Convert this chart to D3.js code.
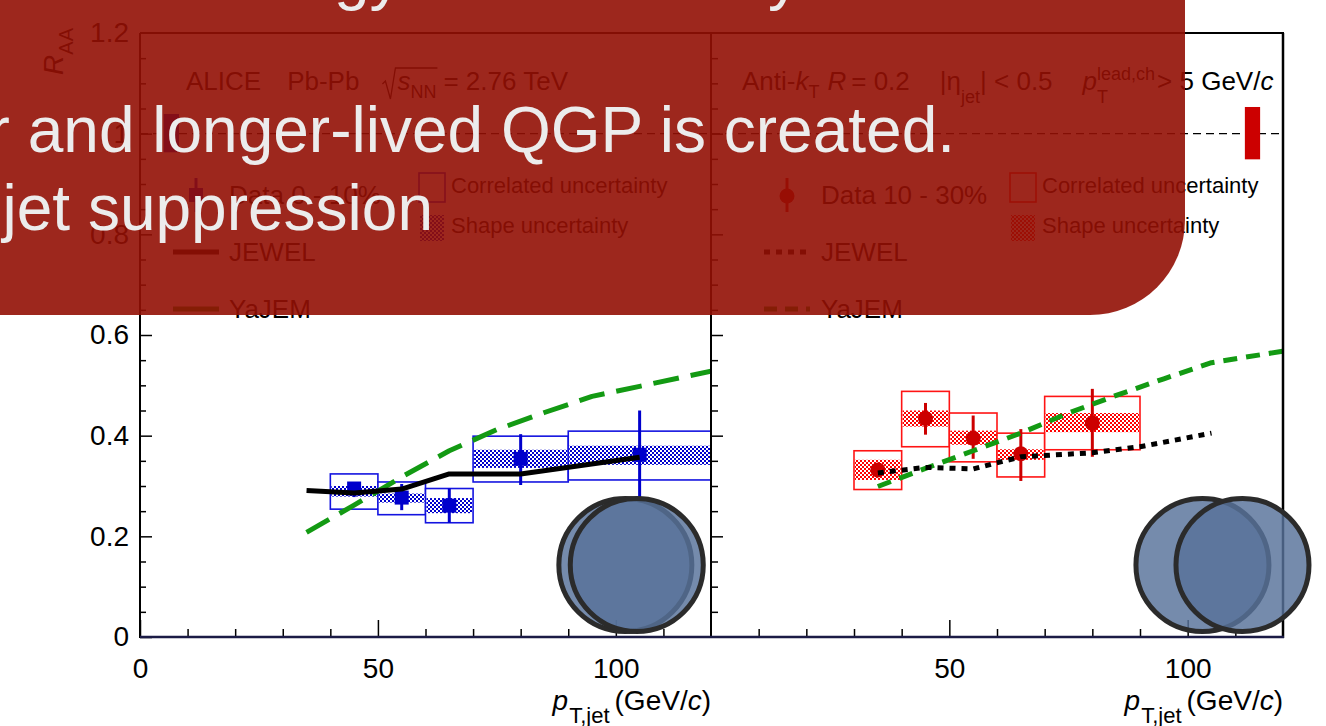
<!DOCTYPE html>
<html>
<head>
<meta charset="utf-8">
<script src="https://cdn.jsdelivr.net/npm/d3@7"></script>
<style>
  html, body { margin: 0; padding: 0; background: #fff; overflow: hidden; }
  svg { display: block; font-family: "Liberation Sans", Arial, Helvetica, sans-serif; }
</style>
</head>
<body>
<svg id="chart" width="1326" height="726"></svg>
<script>
// ---------------- data: jet R_AA, Pb-Pb 2.76 TeV, anti-kT R=0.2 ----------------
// 0-10% centrality
const binLo_0010   = [40, 50, 60, 70, 90];
const binHi_0010   = [50, 60, 70, 90, 120];
const pt_0010      = [45, 55, 65, 80, 105];
const raa_0010     = [0.295, 0.277, 0.261, 0.354, 0.362];
const statLo_0010  = [0.278, 0.252, 0.227, 0.302, 0.274];
const statHi_0010  = [0.307, 0.304, 0.295, 0.403, 0.450];
const corrLo_0010  = [0.254, 0.243, 0.227, 0.308, 0.312];
const corrHi_0010  = [0.324, 0.308, 0.295, 0.399, 0.409];
const shapeLo_0010 = [0.279, 0.267, 0.246, 0.336, 0.342];
const shapeHi_0010 = [0.300, 0.285, 0.276, 0.372, 0.380];
const norm_0010    = [0.963, 1.039];

// 10-30% centrality
const binLo_1030   = [30, 40, 50, 60, 70];
const binHi_1030   = [40, 50, 60, 70, 90];
const pt_1030      = [35, 45, 55, 65, 80];
const raa_1030     = [0.332, 0.434, 0.395, 0.364, 0.425];
const statLo_1030  = [0.321, 0.402, 0.354, 0.310, 0.358];
const statHi_1030  = [0.343, 0.465, 0.440, 0.413, 0.493];
const corrLo_1030  = [0.293, 0.378, 0.348, 0.318, 0.372];
const corrHi_1030  = [0.370, 0.488, 0.445, 0.405, 0.478];
const shapeLo_1030 = [0.312, 0.418, 0.382, 0.352, 0.407];
const shapeHi_1030 = [0.352, 0.450, 0.410, 0.373, 0.445];
const norm_1030    = [0.949, 1.053];

// model curves
const jewelPt_0010 = [35, 45, 55, 65, 80, 105];
const jewel_0010   = [0.291, 0.286, 0.294, 0.324, 0.324, 0.357];
const yajemPt_0010 = [35, 45, 55, 65, 75, 85, 95, 105, 120];
const yajem_0010   = [0.208, 0.262, 0.318, 0.370, 0.412, 0.446, 0.478, 0.498, 0.528];
const jewelPt_1030 = [35, 45, 55, 65, 80, 90, 105];
const jewel_1030   = [0.326, 0.337, 0.334, 0.358, 0.366, 0.378, 0.405];
const yajemPt_1030 = [35, 45, 55, 65, 75, 85, 95, 105, 120];
const yajem_1030   = [0.299, 0.335, 0.370, 0.405, 0.445, 0.480, 0.513, 0.545, 0.568];

// axis ticks
const xMajorTicksL = [0, 50, 100];
const xMajorTicksR = [50, 100];
const xMinorTicks  = [10, 20, 30, 40, 60, 70, 80, 90, 110];
const yMajorTicks  = [0, 0.2, 0.4, 0.6, 0.8, 1.0, 1.2];
const yMinorTicks  = [0.05, 0.1, 0.15, 0.25, 0.3, 0.35, 0.45, 0.5, 0.55, 0.65, 0.7, 0.75, 0.85, 0.9, 0.95, 1.05, 1.1, 1.15];

// ---------------- setup ----------------
const svg = d3.select("#chart");
const defs = svg.append("defs");

const BLUE = "#0000cc", BLUE_BOX = "#1414e0";
const RED = "#cc0000", RED_BOX = "#ff1414";
const GREEN = "#139a13";

const y  = d3.scaleLinear().domain([0, 1.2]).range([637, 33]);
const xL = d3.scaleLinear().domain([0, 120]).range([140, 711]);
const xR = d3.scaleLinear().domain([0, 120]).range([711, 1283]);

function checker(id, color) {
  const p = defs.append("pattern").attr("id", id)
    .attr("width", 4).attr("height", 4).attr("patternUnits", "userSpaceOnUse");
  p.append("rect").attr("width", 4).attr("height", 4).attr("fill", "#fff");
  p.append("rect").attr("width", 2).attr("height", 2).attr("fill", color);
  p.append("rect").attr("x", 2).attr("y", 2).attr("width", 2).attr("height", 2).attr("fill", color);
}
checker("hatchBlue", BLUE);
checker("hatchRed", "#ff0000");

defs.append("clipPath").attr("id", "clipL").append("rect")
  .attr("x", xL(0)).attr("y", y(1.2)).attr("width", xL(120) - xL(0)).attr("height", y(0) - y(1.2));
defs.append("clipPath").attr("id", "clipR").append("rect")
  .attr("x", xR(0)).attr("y", y(1.2)).attr("width", xR(120) - xR(0)).attr("height", y(0) - y(1.2));

// piecewise rich text (italics, sub/superscripts); returns piece extents
function rich(parent, x, yb, parts, opts = {}) {
  const g = parent.append("g");
  let cx = 0, hold = null;
  const ext = [];
  parts.forEach(p => {
    cx += p.gap || 0;
    const t = g.append("text")
      .attr("x", cx).attr("y", p.dy || 0)
      .attr("font-size", p.size || opts.size || 26)
      .attr("font-style", p.it ? "italic" : null)
      .attr("fill", opts.fill || "#000")
      .text(p.t);
    const w = t.node().getComputedTextLength();
    ext.push([cx, cx + w]);
    if (p.hold) { hold = { x: cx, w }; }
    else if (hold) { cx = hold.x + Math.max(hold.w, w); hold = null; }
    else cx += w;
  });
  const x0 = opts.anchor === "end" ? x - cx : x;
  g.attr("transform", `translate(${x0},${yb})`);
  return ext.map(e => [e[0] + x0, e[1] + x0]);
}

const plot = svg.append("g");

// reference line at R_AA = 1
plot.append("line")
  .attr("x1", xL(0)).attr("x2", xR(120)).attr("y1", y(1)).attr("y2", y(1))
  .attr("stroke", "#000").attr("stroke-width", 1.4).attr("stroke-dasharray", "8,5");

// normalisation uncertainty bars
plot.append("rect").attr("x", xL(5)).attr("width", xL(8.2) - xL(5))
  .attr("y", y(norm_0010[1])).attr("height", y(norm_0010[0]) - y(norm_0010[1])).attr("fill", BLUE);
plot.append("rect").attr("x", xR(112)).attr("width", xR(115.2) - xR(112))
  .attr("y", y(norm_1030[1])).attr("height", y(norm_1030[0]) - y(norm_1030[1])).attr("fill", RED);

// ---------------- data panels ----------------
function drawPanel(x, rows, col, boxCol, hatch, marker) {
  const g = plot.append("g");
  g.selectAll(".corr").data(rows).join("rect")
    .attr("x", d => x(d.lo)).attr("width", d => x(d.hi) - x(d.lo))
    .attr("y", d => y(d.cHi)).attr("height", d => y(d.cLo) - y(d.cHi))
    .attr("fill", "#fff").attr("stroke", boxCol).attr("stroke-width", 1.6);
  g.selectAll(".shape").data(rows).join("rect")
    .attr("x", d => x(d.lo) + 1).attr("width", d => x(d.hi) - x(d.lo) - 2)
    .attr("y", d => y(d.sHi)).attr("height", d => y(d.sLo) - y(d.sHi))
    .attr("fill", `url(#${hatch})`);
  g.selectAll(".stat").data(rows).join("line")
    .attr("x1", d => x(d.c)).attr("x2", d => x(d.c))
    .attr("y1", d => y(d.eLo)).attr("y2", d => y(d.eHi))
    .attr("stroke", col).attr("stroke-width", 3);
  if (marker === "square") {
    g.selectAll(".mk").data(rows).join("rect")
      .attr("x", d => x(d.c) - 7).attr("y", d => y(d.v) - 7)
      .attr("width", 14).attr("height", 14).attr("fill", col);
  } else {
    g.selectAll(".mk").data(rows).join("circle")
      .attr("cx", d => x(d.c)).attr("cy", d => y(d.v)).attr("r", 7.5).attr("fill", col);
  }
  return g;
}

function rowsOf(lo, hi, c, v, eLo, eHi, cLo, cHi, sLo, sHi) {
  return c.map((_, i) => ({ lo: lo[i], hi: hi[i], c: c[i], v: v[i], eLo: eLo[i], eHi: eHi[i],
    cLo: cLo[i], cHi: cHi[i], sLo: sLo[i], sHi: sHi[i] }));
}

drawPanel(xL,
  rowsOf(binLo_0010, binHi_0010, pt_0010, raa_0010, statLo_0010, statHi_0010, corrLo_0010, corrHi_0010, shapeLo_0010, shapeHi_0010),
  BLUE, BLUE_BOX, "hatchBlue", "square");
drawPanel(xR,
  rowsOf(binLo_1030, binHi_1030, pt_1030, raa_1030, statLo_1030, statHi_1030, corrLo_1030, corrHi_1030, shapeLo_1030, shapeHi_1030),
  RED, RED_BOX, "hatchRed", "circle");

// model curves
function curve(x, clipId, xs, ys, color, dash) {
  const line = d3.line().x(d => x(d[0])).y(d => y(d[1]));
  plot.append("path").attr("clip-path", `url(#${clipId})`)
    .attr("d", line(xs.map((v, i) => [v, ys[i]])))
    .attr("fill", "none").attr("stroke", color).attr("stroke-width", 5)
    .attr("stroke-dasharray", dash).attr("stroke-linejoin", "round");
}
curve(xL, "clipL", yajemPt_0010, yajem_0010, GREEN, "26,12");
curve(xL, "clipL", jewelPt_0010, jewel_0010, "#000", null);
curve(xR, "clipR", yajemPt_1030, yajem_1030, GREEN, "14,9");
curve(xR, "clipR", jewelPt_1030, jewel_1030, "#000", "6,6");

// ---------------- axes ----------------
const axes = svg.append("g");
function styleAxis(g, size) {
  g.select(".domain").remove();
  g.selectAll(".tick line").attr("stroke", "#000").attr("stroke-width", 1.5);
  g.selectAll(".tick text").attr("font-size", size).attr("fill", "#000")
    .attr("font-family", "Liberation Sans, Arial, sans-serif");
}
const fmtY = d => String(+d.toFixed(1));

axes.append("g").attr("transform", `translate(0,${y(0)})`)
  .call(d3.axisBottom(xL).tickValues(xMajorTicksL).tickSize(-17).tickPadding(21).tickFormat(d3.format("d")))
  .call(g => styleAxis(g, 28));
axes.append("g").attr("transform", `translate(0,${y(0)})`)
  .call(d3.axisBottom(xL).tickValues(xMinorTicks).tickSize(-8).tickFormat(""))
  .call(g => styleAxis(g, 28));
axes.append("g").attr("transform", `translate(0,${y(0)})`)
  .call(d3.axisBottom(xR).tickValues(xMajorTicksR).tickSize(-17).tickPadding(21).tickFormat(d3.format("d")))
  .call(g => styleAxis(g, 28));
axes.append("g").attr("transform", `translate(0,${y(0)})`)
  .call(d3.axisBottom(xR).tickValues(xMinorTicks).tickSize(-8).tickFormat(""))
  .call(g => styleAxis(g, 28));

axes.append("g").attr("transform", `translate(${xL(0)},0)`)
  .call(d3.axisLeft(y).tickValues(yMajorTicks.filter(d => d < 1.2)).tickSize(-12).tickPadding(11).tickFormat(fmtY))
  .call(g => styleAxis(g, 28));
axes.append("g").attr("transform", `translate(${xL(0)},0)`)
  .call(d3.axisLeft(y).tickValues([1.2]).tickSize(0).tickPadding(11).tickFormat(fmtY))
  .call(g => styleAxis(g, 28));
axes.append("g").attr("transform", `translate(${xL(0)},0)`)
  .call(d3.axisLeft(y).tickValues(yMinorTicks).tickSize(-6).tickFormat(""))
  .call(g => styleAxis(g, 28));
axes.append("g").attr("transform", `translate(${xR(0)},0)`)
  .call(d3.axisLeft(y).tickValues(yMajorTicks.filter(d => d > 0 && d < 1.2)).tickSize(-12).tickFormat(""))
  .call(g => styleAxis(g, 28));
axes.append("g").attr("transform", `translate(${xR(0)},0)`)
  .call(d3.axisLeft(y).tickValues(yMinorTicks).tickSize(-7).tickFormat(""))
  .call(g => styleAxis(g, 28));

// frame
const frame = svg.append("g").attr("stroke", "#000").attr("stroke-width", 2);
frame.append("line").attr("x1", xL(0)).attr("x2", xL(0)).attr("y1", y(1.2)).attr("y2", y(0) + 1);
frame.append("line").attr("x1", xR(0)).attr("x2", xR(0)).attr("y1", y(1.2)).attr("y2", y(0) + 1);
frame.append("line").attr("x1", xR(120)).attr("x2", xR(120)).attr("y1", y(1.2)).attr("y2", y(0) + 1).attr("stroke-width", 2.5);
frame.append("line").attr("x1", xL(0)).attr("x2", xR(120) + 1).attr("y1", y(1.2)).attr("y2", y(1.2));
frame.append("line").attr("x1", xL(0)).attr("x2", xR(120) + 1).attr("y1", y(0)).attr("y2", y(0))
  .attr("stroke", "#1b1b45").attr("stroke-width", 2.5);

// axis titles
const titles = svg.append("g");
[xL(120), xR(120)].forEach(xe => {
  rich(titles, xe, 710, [
    { t: "p", it: true, size: 28 },
    { t: "T,jet", size: 22, dy: 13, gap: 1 },
    { t: "(GeV/", size: 28, gap: 5 },
    { t: "c", it: true, size: 28 },
    { t: ")", size: 28 }
  ], { anchor: "end" });
});
const yTitle = titles.append("g").attr("transform", "translate(63,28) rotate(-90)");
rich(yTitle, 0, 0, [
  { t: "R", it: true, size: 28 },
  { t: "AA", size: 20, dy: 10 }
], { anchor: "end" });

// ---------------- panel headers and legends ----------------
const leg = svg.append("g");
const hdr = rich(leg, 186, 90, [
  { t: "ALICE" },
  { t: "Pb-Pb", gap: 26 },
  { t: "s", it: true, gap: 38 },
  { t: "NN", size: 18, dy: 8 },
  { t: "= 2.76 TeV", gap: 7 }
]);
const sx = hdr[2][0], nnEnd = hdr[3][1];
leg.append("path")
  .attr("d", `M${sx - 15},84 L${sx - 12},81 L${sx - 7},99 L${sx - 2},68 L${nnEnd + 1},68`)
  .attr("fill", "none").attr("stroke", "#000").attr("stroke-width", 1.3);

rich(leg, 742, 90, [
  { t: "Anti-" },
  { t: "k", it: true },
  { t: "T", size: 18, dy: 8 },
  { t: "R", it: true, gap: 8 },
  { t: "= 0.2", gap: 5 },
  { t: "|η", gap: 30 },
  { t: "jet", size: 18, dy: 13 },
  { t: "| < 0.5" },
  { t: "p", it: true, gap: 30 },
  { t: "lead,ch", size: 18, dy: -10, hold: true },
  { t: "T", size: 18, dy: 13 },
  { t: "> 5 GeV/", gap: 2 },
  { t: "c", it: true }
]);

function legendBlock(x0, xt, xb, col, boxCol, hatch, marker, label, jewelDash, yajemDash) {
  // data marker with error bar
  leg.append("line").attr("x1", x0 + 23).attr("x2", x0 + 23).attr("y1", 178).attr("y2", 212)
    .attr("stroke", col).attr("stroke-width", 3);
  if (marker === "square")
    leg.append("rect").attr("x", x0 + 16).attr("y", 188).attr("width", 14).attr("height", 14).attr("fill", col);
  else
    leg.append("circle").attr("cx", x0 + 23).attr("cy", 196).attr("r", 7.5).attr("fill", col);
  leg.append("text").attr("x", xt).attr("y", 204).attr("font-size", 26).text(label);
  // uncertainty boxes
  leg.append("rect").attr("x", xb).attr("y", 173).attr("width", 26).attr("height", 29)
    .attr("fill", "none").attr("stroke", boxCol).attr("stroke-width", 1.6);
  leg.append("text").attr("x", xb + 32).attr("y", 193).attr("font-size", 22).text("Correlated uncertainty");
  leg.append("rect").attr("x", xb + 1).attr("y", 215).attr("width", 24).attr("height", 26)
    .attr("fill", `url(#${hatch})`);
  leg.append("text").attr("x", xb + 32).attr("y", 233).attr("font-size", 22).text("Shape uncertainty");
  // model lines
  leg.append("line").attr("x1", x0).attr("x2", x0 + 46).attr("y1", 252).attr("y2", 252)
    .attr("stroke", "#000").attr("stroke-width", 5).attr("stroke-dasharray", jewelDash);
  leg.append("text").attr("x", xt).attr("y", 261).attr("font-size", 26).text("JEWEL");
  leg.append("line").attr("x1", x0).attr("x2", x0 + 46).attr("y1", 309).attr("y2", 309)
    .attr("stroke", GREEN).attr("stroke-width", 5).attr("stroke-dasharray", yajemDash);
  leg.append("text").attr("x", xt).attr("y", 318).attr("font-size", 26).text("YaJEM");
}
legendBlock(173, 229, 419, BLUE, BLUE_BOX, "hatchBlue", "square", "Data 0 - 10%", null, null);
legendBlock(764, 821, 1010, RED, RED_BOX, "hatchRed", "circle", "Data 10 - 30%", "6,6", "13,8");

// ---------------- overlay discs ----------------
const discs = svg.append("g");
const discY = 0.143, discR = 66.5;
[[xL, 102.0], [xL, 104.4], [xR, 103.1], [xR, 111.5]].forEach(([x, v]) => {
  discs.append("circle").attr("cx", x(v)).attr("cy", y(discY)).attr("r", discR)
    .attr("fill", "rgb(88,114,154)").attr("fill-opacity", 0.825)
    .attr("stroke", "#2b2b2b").attr("stroke-width", 5);
});

// ---------------- caption banner ----------------
const banner = svg.append("g");
banner.append("rect").attr("x", -200).attr("y", -200).attr("width", 1385).attr("height", 515)
  .attr("rx", 95).attr("ry", 95)
  .attr("fill", "rgb(146,16,4)").attr("fill-opacity", 0.9);

const BF = 64, BCOL = "#ececec";
// first caption line: the "gy" of "energy" starts at x = 334
const probe = banner.append("text").attr("font-size", BF).text("Higher collision ener");
const wLead = probe.node().getComputedTextLength();
probe.remove();
banner.append("text").attr("x", 334 - wLead).attr("y", -2)
  .attr("font-size", BF).attr("fill", BCOL).text("Higher collision energy leads to early");
banner.append("text").attr("x", 955).attr("y", 152).attr("text-anchor", "end")
  .attr("font-size", BF).attr("fill", BCOL).text("hotter and longer-lived QGP is created.");
banner.append("text").attr("x", 433).attr("y", 230).attr("text-anchor", "end")
  .attr("font-size", BF).attr("fill", BCOL).text("and stronger jet suppression");
</script>
</body>
</html>
